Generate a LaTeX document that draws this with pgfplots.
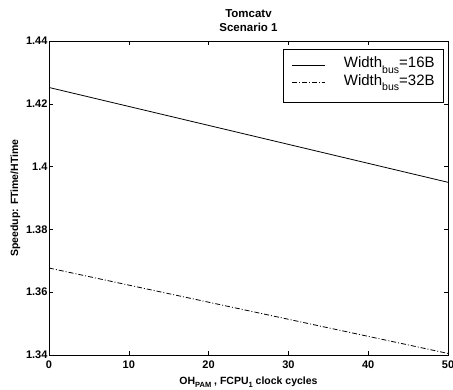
\documentclass[border=0pt]{standalone}
\usepackage{pgfplots}
\pgfplotsset{compat=1.18}
\usepackage{fontspec}
\setmainfont{Liberation Sans}
\newcommand\sub[1]{\raisebox{-3.5pt}{\fontsize{7.5}{8}\selectfont #1}}
\newcommand\lsub[1]{\raisebox{-5.5pt}{\fontsize{10.5}{11}\selectfont #1}}
\begin{document}
\begin{tikzpicture}
\begin{axis}[
  name=ax,
  scale only axis,
  width=399pt, height=314pt,
  xmin=0, xmax=50, ymin=1.34, ymax=1.44,
  xtick={0,10,...,50},
  ytick={1.34,1.36,...,1.44},
  tick align=inside,
  tick style={black, line width=0.5pt},
  major tick length=4pt,
  axis line style={line width=0.8pt},
  /pgf/number format/assume math mode=true,
  yticklabel style={/pgf/number format/fixed, /pgf/number format/precision=2, font=\fontsize{11}{12}\selectfont\bfseries, xshift=2pt},
  xticklabel style={font=\fontsize{11}{12}\selectfont\bfseries, yshift=-2.5pt},
  title={Tomcatv\\Scenario 1},
  title style={font=\fontsize{11.5}{14}\selectfont\bfseries, align=center, yshift=0pt},
  xlabel={OH\sub{PAM} , FCPU\sub{1} clock cycles},
  xlabel style={font=\fontsize{10.5}{12}\selectfont\bfseries, yshift=-1pt},
  ylabel={Speedup: FTime/HTime},
  ylabel style={font=\fontsize{10.5}{12}\selectfont\bfseries, yshift=-1pt},
  legend style={at={(0.99,0.974)}, anchor=north east, draw=black, line width=0.8pt,
    font=\fontsize{15}{16}\selectfont, inner xsep=9pt, inner ysep=6pt, row sep=0pt, column sep=19pt,
    nodes={inner sep=0pt, text height=11pt, text depth=5pt}},
  legend cell align=left,
  legend image code/.code={\draw[#1, line width=0.6pt] (0cm,0pt) -- (1.13cm,0pt); \path (0cm,9pt);},
]
\addplot[black, line width=0.8pt] coordinates {(0,1.4252) (50,1.3950)};
\addlegendentry{Width\lsub{bus}=16B}
\addplot[black, line width=0.8pt, dash pattern=on 5pt off 2pt on 1pt off 2pt] coordinates {(0,1.3677) (50,1.3405)};
\addlegendentry{Width\lsub{bus}=32B}
\addlegendimage{empty legend}
\addlegendentry[text height=0pt, text depth=6pt]{}
\end{axis}
\pgfresetboundingbox
\path ([shift={(-49pt,-34pt)}]ax.south west) rectangle ([shift={(5pt,41pt)}]ax.north east);
\end{tikzpicture}
\end{document}
